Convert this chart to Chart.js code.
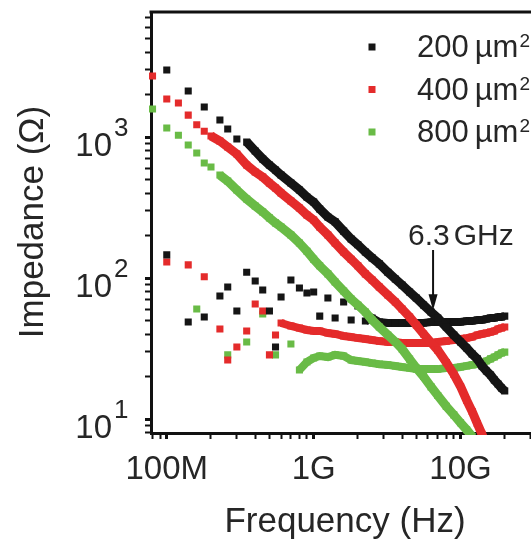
<!DOCTYPE html>
<html>
<head>
<meta charset="utf-8">
<script src="https://cdn.jsdelivr.net/npm/chart.js@4/dist/chart.umd.min.js"></script>
<style>
html, body { margin: 0; padding: 0; background: #fff; overflow: hidden; }
#wrap { width: 560px; height: 550px; }
</style>
</head>
<body>
<div id="wrap"><canvas id="grafico"></canvas></div>
<script>
// frequencias (GHz)
const freqGHz = [0.08, 0.1, 0.12, 0.14, 0.16, 0.18, 0.2, 0.23, 0.26, 0.3,
    0.35, 0.4, 0.45, 0.5, 0.55, 0.6, 0.7, 0.8, 0.9, 1.0,
    1.1, 1.25, 1.4, 1.6, 1.8, 2.0, 2.25, 2.5, 2.8, 3.2,
    3.6, 4.0, 4.5, 5.0, 5.6, 6.3, 7.0, 8.0, 9.0, 10,
    11, 12, 13, 14, 15, 16, 17, 18, 19, 20];

// curvas que descem (ohm)
const z200Mag = [null, 2990, null, 2120, null, 1630, null, 1320, 1140, 968,
    923, 796, 699, 633, 583, 537, 472, 421, 375, 346,
    309, 271, 250, 215, 189, 172, 153, 139, 126, 110,
    98.4, 89.2, 79.6, 72.1, 64.4, 57.4, 52.0, 44.9, 39.4, 35.2,
    31.9, 28.9, 26.7, 23.8, 21.9, 20.5, 18.9, 17.7, 16.6, 15.8];
const z400Mag = [2710, 1860, 1740, 1430, 1220, 1100, 1017, 937, 849, 757,
    633, 565, 520, 472, 435, 401, 352, 314, 280, 258,
    230, 202, 177, 153, 136, 122, 107, 96.8, 86.3, 75.7,
    67.6, 60.3, 52.9, 46.4, 40.1, 34.8, 30.8, 25.2, 20.8, 17.0,
    13.6, 11.3, 9.3, 7.8, 6.5, null, null, null, null, null];
const z800Mag = [1580, 1160, 1030, 877, 771, 654, 613, 537, 487, 421,
    363, 324, 294, 267, 246, 230, 202, 177, 155, 136,
    122, 107, 93.7, 80.9, 71.0, 64.4, 57.4, 50.4, 44.9, 39.4,
    35.2, 31.4, 26.6, 23.0, 20.0, 16.9, 14.7, 12.3, 10.7, 9.4,
    8.4, 7.5, null, null, null, null, null, null, null, null];

// curvas quase planas (ohm)
const z200Re = [null, 146, null, 48.8, null, 52.9, null, 74.5, 86.3, 58.4,
    110, 95.2, 82.2, 58.4, 32.4, 73.3, 96.8, 84.9, 78.3, 79.6,
    53.7, 72.1, 52.0, 67.6, 50.4, 63.3, 49.5, 52.0, 48.8, 48.0,
    48.0, 48.0, 48.0, 48.0, 48.0, 48.8, 48.8, 48.8, 48.8, 48.8,
    49.5, 49.5, 50.4, 50.4, 51.2, 52.0, 52.0, 52.9, 52.9, 53.7];
const z400Re = [null, 130, null, 124, null, 102, null, 43.5, 26.2, 32.4,
    42.1, 65.5, 58.4, 28.5, 39.4, 48.0, 45.7, 44.2, 42.8, 42.1,
    42.1, 40.7, 40.1, 38.8, 38.2, 37.5, 36.9, 36.3, 35.7, 35.2,
    35.2, 34.6, 34.6, 34.6, 34.6, 34.6, 35.2, 35.7, 36.3, 36.9,
    37.5, 38.2, 39.4, 40.1, 40.7, 41.4, 42.1, 43.5, 44.2, 44.9];
const z800Re = [null, null, null, null, 60.3, null, null, null, 28.5, null,
    35.2, null, 55.6, null, 28.5, null, 34.0, 22.3, 25.4, 27.1,
    28.0, 27.5, 28.5, 28.0, 26.2, 25.8, 25.4, 24.9, 24.5, 24.2,
    23.8, 23.4, 23.0, 22.6, 22.6, 22.6, 22.6, 23.0, 23.0, 23.4,
    23.8, 24.2, 24.5, 24.9, 25.8, 26.7, 27.5, 28.5, 29.4, 29.8];

const areas = ['200', '400', '800'];
const cores = ['#151515', '#e42b2b', '#69bb46'];
// a partir de qual frequencia (GHz) os pontos viram faixa continua
const faixaMag = [0.35, 0.2, 0.23];
const faixaRe = [2.25, 0.6, 0.8];

const xMajor = [1e8, 1e9, 1e10];
const xMajorLabels = ['100M', '1G', '10G'];
const yMajor = [10, 100, 1000];
const yExpoentes = ['1', '2', '3'];

const marcaFreq = 6.5e9;   // seta do "6.3 GHz"
const marcaTopo = 158;
const marcaPonta = 59;

const fonte = '"Liberation Sans", Arial, Helvetica, sans-serif';
const corTexto = '#262626';

function ticksLog(min, max, majors) {
    const t = [];
    for (let e = -1; e <= 11; e++) {
        for (let m = 1; m <= 9; m++) {
            const v = m * Math.pow(10, e);
            if (v >= min && v <= max) t.push({ value: v, major: majors.includes(v) });
        }
    }
    return t;
}

function serie(vals, cor, inicio, largura) {
    return {
        data: freqGHz.map((f, i) => ({ x: f * 1e9, y: vals[i] })),
        showLine: true,
        borderColor: cor,
        backgroundColor: cor,
        borderWidth: largura,
        pointStyle: 'rect',
        pointRadius: 5,
        pointHoverRadius: 5,
        pointBorderWidth: 0,
        spanGaps: false,
        clip: 2,
        segment: {
            borderColor: ctx => ctx.p0.parsed.x >= inicio * 1e9 - 1 ? cor : 'rgba(0,0,0,0)'
        }
    };
}

const textos = {
    id: 'textos',
    afterDraw(chart) {
        const { ctx, chartArea: ca, scales: { x, y } } = chart;
        ctx.save();

        // borda de cima
        ctx.strokeStyle = '#111';
        ctx.lineWidth = 3;
        ctx.beginPath();
        ctx.moveTo(ca.left - 1.5, ca.top);
        ctx.lineTo(ca.right, ca.top);
        ctx.stroke();

        ctx.fillStyle = corTexto;
        ctx.textBaseline = 'alphabetic';

        // rotulos 10^n
        yMajor.forEach((v, i) => {
            const py = y.getPixelForValue(v);
            ctx.font = '33px ' + fonte;
            ctx.textAlign = 'right';
            ctx.fillText('10', 112, py + 19);
            ctx.font = '26px ' + fonte;
            ctx.textAlign = 'left';
            ctx.fillText(yExpoentes[i], 114, py - 1);
        });

        // titulos
        ctx.font = '35px ' + fonte;
        ctx.textAlign = 'center';
        ctx.fillText('Frequency (Hz)', 345, 532);
        ctx.save();
        ctx.translate(43, 222);
        ctx.rotate(-Math.PI / 2);
        ctx.fillText('Impedance (\u03A9)', 0, 0);
        ctx.restore();

        // legenda
        areas.forEach((a, i) => {
            const base = 57 + i * 42.5;
            ctx.fillStyle = cores[i];
            ctx.fillRect(368.5, base - 13.5, 7, 7);
            ctx.fillStyle = corTexto;
            ctx.textAlign = 'left';
            ctx.font = '31px ' + fonte;
            ctx.fillText(a, 417, base);
            let w = ctx.measureText(a).width + 6;
            ctx.fillText('\u00B5m', 417 + w, base);
            w += ctx.measureText('\u00B5m').width;
            ctx.font = '19px ' + fonte;
            ctx.fillText('2', 417 + w + 1, base - 10);
        });

        // seta 6.3 GHz
        const ax = x.getPixelForValue(marcaFreq);
        const topo = y.getPixelForValue(marcaTopo);
        const ponta = y.getPixelForValue(marcaPonta);
        ctx.strokeStyle = '#111';
        ctx.fillStyle = '#111';
        ctx.lineWidth = 2;
        ctx.beginPath();
        ctx.moveTo(ax, topo);
        ctx.lineTo(ax, ponta - 14);
        ctx.stroke();
        ctx.beginPath();
        ctx.moveTo(ax - 4.5, ponta - 16);
        ctx.lineTo(ax + 4.5, ponta - 16);
        ctx.lineTo(ax, ponta);
        ctx.closePath();
        ctx.fill();

        ctx.fillStyle = corTexto;
        ctx.font = '30px ' + fonte;
        ctx.textAlign = 'left';
        ctx.fillText('6.3', ax - 25, topo - 5);
        const w63 = ctx.measureText('6.3').width;
        ctx.fillText('GHz', ax - 25 + w63 + 4, topo - 5);

        ctx.restore();
    }
};

window.onload = function() {
    const ctx = document.getElementById('grafico').getContext('2d');
    const xMin = 7.81e7, xMax = 4.08e10, yMin = 7.96, yMax = 7700;

    window.myChart = new Chart(ctx, {
        type: 'scatter',
        data: {
            datasets: [
                // as que descem ficam por cima
                Object.assign(serie(z200Mag, cores[0], faixaMag[0], 9), { label: '200 \u00B5m\u00B2' }),
                Object.assign(serie(z400Mag, cores[1], faixaMag[1], 9), { label: '400 \u00B5m\u00B2' }),
                Object.assign(serie(z800Mag, cores[2], faixaMag[2], 9), { label: '800 \u00B5m\u00B2' }),
                Object.assign(serie(z200Re, cores[0], faixaRe[0], 8), { label: '200 \u00B5m\u00B2 (Re)' }),
                Object.assign(serie(z400Re, cores[1], faixaRe[1], 8), { label: '400 \u00B5m\u00B2 (Re)' }),
                Object.assign(serie(z800Re, cores[2], faixaRe[2], 8), { label: '800 \u00B5m\u00B2 (Re)' })
            ]
        },
        options: {
            responsive: true,
            maintainAspectRatio: false,
            animation: false,
            layout: { padding: { top: 12, right: 4, left: 0, bottom: 0 } },
            plugins: { legend: { display: false }, tooltip: { enabled: false } },
            scales: {
                x: {
                    type: 'logarithmic',
                    min: xMin, max: xMax,
                    afterBuildTicks: a => { a.ticks = ticksLog(xMin, xMax, xMajor); },
                    afterFit: a => { a.height = 117; },
                    border: { display: true, color: '#111', width: 3 },
                    grid: {
                        drawOnChartArea: false, drawTicks: true, tickLength: 6,
                        tickColor: '#111',
                        tickWidth: c => (c.tick && c.tick.major ? 3 : 2)
                    },
                    ticks: {
                        autoSkip: false, maxRotation: 0, padding: 11,
                        color: corTexto, font: { family: fonte, size: 33 },
                        callback: v => {
                            const i = xMajor.indexOf(v);
                            return i >= 0 ? xMajorLabels[i] : '';
                        }
                    }
                },
                y: {
                    type: 'logarithmic',
                    min: yMin, max: yMax,
                    afterBuildTicks: a => { a.ticks = ticksLog(yMin, yMax, yMajor); },
                    afterFit: a => { a.width = 151; },
                    border: { display: true, color: '#111', width: 3 },
                    grid: {
                        drawOnChartArea: false, drawTicks: true, tickLength: 6,
                        tickColor: '#111',
                        tickWidth: c => (c.tick && c.tick.major ? 3 : 2)
                    },
                    ticks: { display: false }
                }
            }
        },
        plugins: [textos]
    });
};
</script>
</body>
</html>
